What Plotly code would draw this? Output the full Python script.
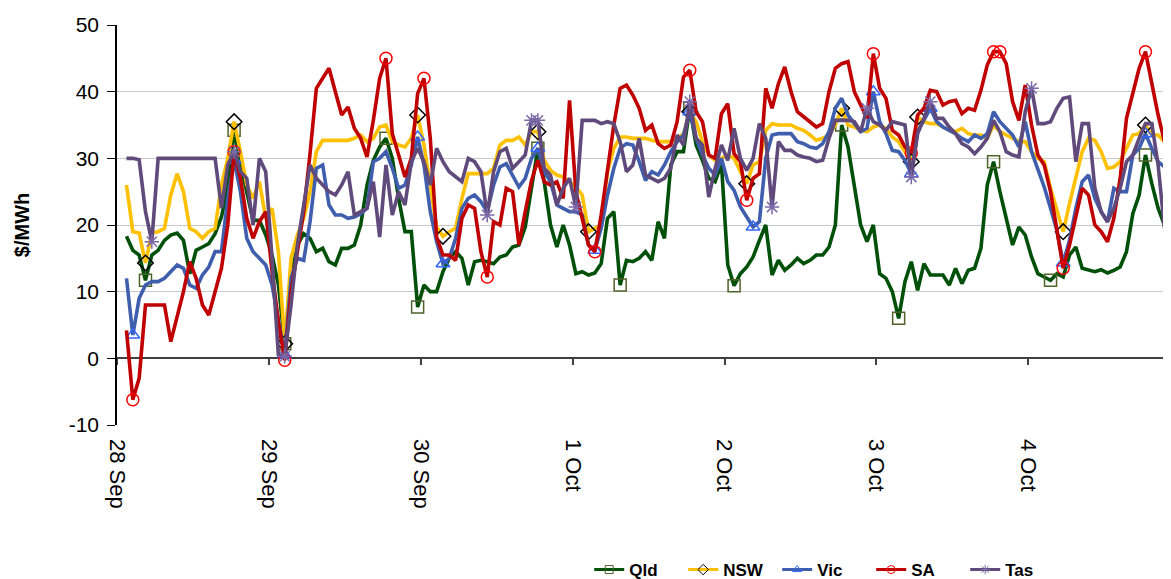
import plotly.graph_objects as go
import pandas as pd

# Hourly spot prices ($/MWh), starting 28 Sep 01:30
qld = [18.3, 16.2, 15.5, 11.7, 15.5, 16.2, 17.7, 18.5, 18.8, 17.7, 12.7, 16.2, 16.7, 17.2, 18.7, 21.2, 25.7, 34.2, 29.2, 24.7, 20.7, 20.7, 18.5, 15.5, 11, 2.2,
       12, 17, 18.7, 18, 16, 16.5, 14.5, 14, 16.5, 16.5, 17, 20, 26, 29.7, 31.7, 33, 30, 24, 19, 19, 7.7, 11, 10, 10, 13, 15, 16, 15,
       11, 14.5, 14.7, 14.5, 14.2, 15.2, 15.5, 16.7, 17, 19.7, 26, 31.5, 26.5, 20, 16.7, 20, 17, 12.7, 13, 12.5, 12.8, 14.2, 21, 22, 11, 14.7, 14.5, 15,
       16, 14.7, 20.5, 18, 29, 31, 31, 37.5, 32, 29.7, 27, 26.5, 29.2, 14, 10.9, 12.7, 13.7, 15.2, 17.7, 20, 12.5, 14.7, 13.2, 14, 15, 14.2, 14.7, 15.5,
       15.5, 16.7, 20, 35, 31.7, 25.7, 20, 17.5, 20, 12.7, 12, 10, 6, 11.5, 14.5, 10.2, 14.2, 12.5, 12.5, 12.5, 11, 13.5, 11.2, 13.2, 13.5, 16.5, 26,
       29.5, 25, 21, 17, 19.7, 18.5, 15.2, 12.7, 12.2, 11.7, 12.7, 12.2, 15.5, 16.7, 13.5, 13.2, 13, 13.3, 12.8, 13.2, 13.7, 16, 21.7, 24.5, 30.5, 26.2, 22.5, 20, 16]

nsw = [26, 19, 18.8, 14.3, 18.8, 19, 19.5, 24.5, 27.7, 25, 19.5, 19, 18, 19, 19.5, 26, 30, 35.5, 31, 26, 24, 26.5, 21, 22.5, 16, 2.2,
       15, 18.5, 21, 25, 31, 32.7, 32.7, 32.7, 32.7, 32.7, 33, 33.5, 32.5, 33, 34.7, 35, 32.5, 32, 31.7, 33, 36.5, 32, 26, 19.7, 18.3, 19, 19.5, 24,
       27.7, 27.7, 27.7, 27.7, 28.5, 32, 32.7, 32.7, 33.2, 32, 34, 34, 29.7, 28.2, 27.5, 27.2, 26.5, 25.7, 24.5, 19, 19.5, 20, 28, 31.5, 33.2, 33.2, 33, 33,
       33, 32.7, 32.5, 32.5, 32.5, 33, 33.7, 37, 35.5, 32.5, 30.5, 29.7, 30, 30.5, 30, 28, 26.2, 29, 29.5, 34.2, 35.2, 35, 35, 35, 34.5, 34.2, 33.5, 32.7,
       33, 33.5, 35, 37.5, 35, 34.7, 34.2, 34, 34.7, 35, 34.5, 33.2, 32.5, 31, 29.5, 36.2, 35.5, 35.2, 35.2, 34.7, 34.2, 34, 34.5, 33.7, 33.5, 33.5, 33,
       35, 34, 33.5, 33, 32.5, 32.5, 31, 30, 29.5, 25.5, 22, 19, 23.2, 27.2, 31, 33, 32.7, 31, 28.5, 28.7, 29.5, 31.5, 33.5, 33.7, 35, 33.5, 33.5, 32.5, 32.2]

vic = [12, 3.5, 9, 11, 11.5, 11.5, 12, 13, 14, 13.5, 11, 10.5, 12.5, 13.7, 16, 16, 24, 29.7, 25, 18, 16, 15, 14, 11, 5.5, 0.5,
       12, 15, 14.7, 20.5, 28.5, 29, 23, 21.5, 21.5, 21, 21.2, 21.7, 22.5, 29.5, 30, 31, 28.5, 25.5, 26, 29, 33.2, 29, 22, 17.5, 14.2, 15, 18, 22.5,
       24, 24.5, 23.5, 22, 26, 28.7, 29.2, 27.5, 25.7, 27, 30, 31.5, 28, 26.5, 23, 22.5, 22, 22, 21.5, 17, 16.2, 19.5, 24.5, 28.5, 31.5, 32.2, 32, 29.5,
       26.7, 28, 27.5, 29, 31, 32.5, 33.5, 37, 33, 30.5, 28.5, 27.5, 30, 26.5, 25.2, 22.7, 21.2, 19.7, 20.5, 30, 33.5, 33.7, 33.7, 33.7, 32.5, 32.2, 31.7, 31.5,
       32.2, 34, 37.5, 39, 36.5, 35.2, 34, 34.5, 40, 35.5, 33.7, 31.2, 31, 29.7, 27.7, 34, 35.7, 37.5, 35.5, 34.7, 34.2, 33.7, 33, 32.5, 33.5, 33, 33.7,
       37, 35.5, 34.5, 33.5, 31.7, 35.5, 31, 28.5, 25.7, 22.5, 19.2, 14.3, 17.7, 22.5, 26.5, 27.5, 24, 22, 20.5, 25.5, 25, 25, 30.5, 31.5, 33.7, 31.5, 29.5, 28.7, 28]

sa = [4.2, -6.2, -3, 8, 8, 8, 8, 2.5, 6, 10, 14.5, 12, 8, 6.5, 10, 13.5, 20, 31, 27, 21, 18, 20.5, 22, 13, 5.5, -0.3,
      10, 16, 22, 30.7, 40.5, 42, 43.5, 40, 36.5, 37.7, 34.5, 33, 30.2, 35.7, 42, 45, 33.7, 30.5, 27.2, 30, 39.7, 42, 33, 18.2, 15.5, 15.5, 14.7, 21,
      23, 22.5, 16, 12.2, 20.5, 20, 25.5, 25, 17, 22, 26.7, 29.7, 26.5, 26, 26.5, 24, 38.7, 25, 21, 17, 16, 21.5, 28.2, 35, 40.5, 41, 39.5, 37.5,
      34.2, 35, 32.2, 31.5, 32, 35.5, 42.2, 43.2, 37, 35.5, 30.5, 30, 36.7, 38.2, 30.7, 29.5, 23.7, 27, 27.7, 40.5, 37.5, 41.2, 43.7, 40, 37, 36.2, 35.5, 34.7,
      35.2, 40, 43.5, 44.2, 44.5, 40, 38, 36, 45.7, 40.5, 39, 34.2, 33.5, 31.7, 30.8, 36.5, 37.5, 40.2, 40, 38, 38.5, 38.7, 36.7, 37.5, 37.2, 40.2, 44,
      46, 46, 44.2, 38.5, 35.7, 41, 35, 30.5, 29, 25, 19.2, 13.5, 17, 21, 25.5, 24.5, 20, 19, 17.5, 21, 27, 36, 39.5, 43.5, 46, 41, 36.5, 32.5, 30.7]

tas = [30, 30, 29.8, 22, 17.5, 30, 30, 30, 30, 30, 30, 30, 30, 30, 30, 22.5, 29, 31, 28, 27, 20, 30, 28, 15, 0.5, 0.3,
       8, 17, 23, 29, 27, 26, 25, 24.5, 26, 28, 21.5, 22, 22.5, 26.5, 18.2, 29, 21.5, 25, 23, 29.5, 31.5, 29.5, 26, 31.5, 29.5, 28, 27.2, 26.5,
       30, 29.5, 28, 21.5, 28, 31, 31.5, 28.5, 29.5, 30.5, 35.7, 35.7, 28.5, 27.5, 23, 25.5, 27, 22.7, 35.7, 35.7, 35.7, 35.2, 35.5, 35.2, 32.5, 28, 29, 33,
       27.5, 27, 26.5, 27, 28.5, 33.5, 32, 38.5, 33, 32, 24.2, 28.5, 32, 29.7, 34.5, 30, 28.2, 30, 35.2, 33, 22.7, 32.5, 31.2, 31.2, 30.5, 30.2, 30, 29.5,
       29.7, 33, 35.7, 35.7, 35.7, 35.5, 34, 37.5, 35.5, 35, 34.2, 35.5, 35.2, 35, 27.2, 33.7, 36, 38.5, 36, 36, 34.7, 33.7, 32.2, 31.7, 30.7, 31.7, 33,
       35.7, 34, 31, 30.5, 30.2, 37, 40.5, 35.2, 35.2, 35.5, 37.5, 39, 39.2, 29.5, 35.2, 35.2, 25.5, 22, 20.5, 22.5, 25.5, 29.5, 30.5, 33, 35.2, 35.2, 29, 19.5, 21]

# indices of points that carry a marker (daily highs / lows)
qld_marks = [3, 17, 25, 41, 46, 65, 78, 89, 96, 113, 122, 137, 146, 161]
nsw_marks = [3, 17, 25, 46, 50, 65, 73, 89, 98, 113, 124, 125, 148, 161]
vic_marks = [1, 17, 25, 46, 50, 65, 74, 89, 99, 118, 124, 127, 148, 161]
sa_marks = [1, 17, 25, 41, 47, 57, 74, 89, 98, 118, 124, 137, 138, 148, 161]
tas_marks = [4, 17, 25, 57, 64, 65, 71, 89, 102, 117, 124, 127, 143]

series_names = ["Qld", "NSW", "Vic", "SA", "Tas"]
day_ticks = ["2012-09-28", "2012-09-29", "2012-09-30", "2012-10-01", "2012-10-02", "2012-10-03", "2012-10-04"]
day_labels = ["28 Sep", "29 Sep", "30 Sep", "1 Oct", "2 Oct", "3 Oct", "4 Oct"]
y_ticks = [-10, 0, 10, 20, 30, 40, 50]
y_labels = ["-10", "0", "10", "20", "30", "40", "50"]
x_start = "2012-09-28 00:00"
x_end = "2012-10-04 22:32"
first_time = "2012-09-28 01:30"

styles = {
    "Qld": dict(line="#00500A", symbol="square-open", mcolor="#4F6228"),
    "NSW": dict(line="#FFC000", symbol="diamond-open", mcolor="#000000"),
    "Vic": dict(line="#3F5FAE", symbol="triangle-up-open", mcolor="#3366FF"),
    "SA": dict(line="#C00000", symbol="circle-open", mcolor="#FF0000"),
    "Tas": dict(line="#604A7B", symbol="asterisk-open", mcolor="#7B68A8"),
}
data = {"Qld": (qld, qld_marks), "NSW": (nsw, nsw_marks), "Vic": (vic, vic_marks),
        "SA": (sa, sa_marks), "Tas": (tas, tas_marks)}

fig = go.Figure()
for name in series_names:
    vals, marks = data[name]
    st = styles[name]
    times = pd.date_range(first_time, periods=len(vals), freq="h")
    tstr = [t.strftime("%Y-%m-%d %H:%M") for t in times]
    fig.add_trace(go.Scatter(x=tstr, y=vals, mode="lines", showlegend=False,
                             line=dict(color=st["line"], width=3.6), hoverinfo="skip"))
    mk = [i for i in marks if i < len(vals)]
    fig.add_trace(go.Scatter(x=[tstr[i] for i in mk], y=[vals[i] for i in mk], mode="markers",
                             showlegend=False, hoverinfo="skip",
                             marker=dict(symbol=st["symbol"], size=12, color=st["mcolor"],
                                         line=dict(color=st["mcolor"], width=1.5))))

# legend entries
for name in series_names:
    st = styles[name]
    fig.add_trace(go.Scatter(x=[None], y=[None], mode="lines+markers", name=name,
                             line=dict(color=st["line"], width=3),
                             marker=dict(symbol=st["symbol"], size=8, color=st["mcolor"],
                                         line=dict(color=st["mcolor"], width=1))))

# helper trace for the axis drawn through y = 0
fig.add_trace(go.Scatter(x=[x_start], y=[None], xaxis="x2", showlegend=False, hoverinfo="skip"))

# the page body adds an 8 px offset, so the figure is sized to fit the window
fig.update_layout(
    width=1163, height=571,
    margin=dict(l=109, r=0, t=17, b=154, autoexpand=False),
    plot_bgcolor="white", paper_bgcolor="white",
    font=dict(family="Liberation Sans, Arial, sans-serif", color="black"),
    xaxis=dict(type="date", range=[x_start, x_end], tickvals=day_ticks, ticktext=day_labels,
               tickangle=90, tickfont=dict(size=22), showgrid=False, showline=False,
               ticks="", zeroline=False, ticklabelstandoff=13, automargin=False),
    xaxis2=dict(type="date", overlaying="x", anchor="free", position=1 / 6,
                range=[x_start, x_end], tickvals=day_ticks, showticklabels=False,
                ticks="outside", ticklen=6, tickwidth=1.5, tickcolor="#404040",
                showline=True, linecolor="#404040", linewidth=2, showgrid=False,
                zeroline=False, layer="below traces"),
    yaxis=dict(range=[-10, 50], tickvals=y_ticks, ticktext=y_labels, showgrid=True,
               gridcolor="#C8C8C8", gridwidth=1, showline=True, linecolor="black",
               linewidth=1.5, ticks="outside", ticklen=8, tickcolor="black", zeroline=False,
               tickfont=dict(size=21), ticklabelstandoff=4, automargin=False,
               title=dict(text="<b>$/MWh</b>", font=dict(size=20), standoff=34)),
    legend=dict(orientation="h", x=0.448, xanchor="left", y=-0.3625, yanchor="middle",
                font=dict(size=17, family="Liberation Sans Narrow, Arial Narrow, Liberation Sans", weight="bold"),
                entrywidth=49, bgcolor="rgba(0,0,0,0)"),
    showlegend=True,
)

fig.write_html("out.html")
